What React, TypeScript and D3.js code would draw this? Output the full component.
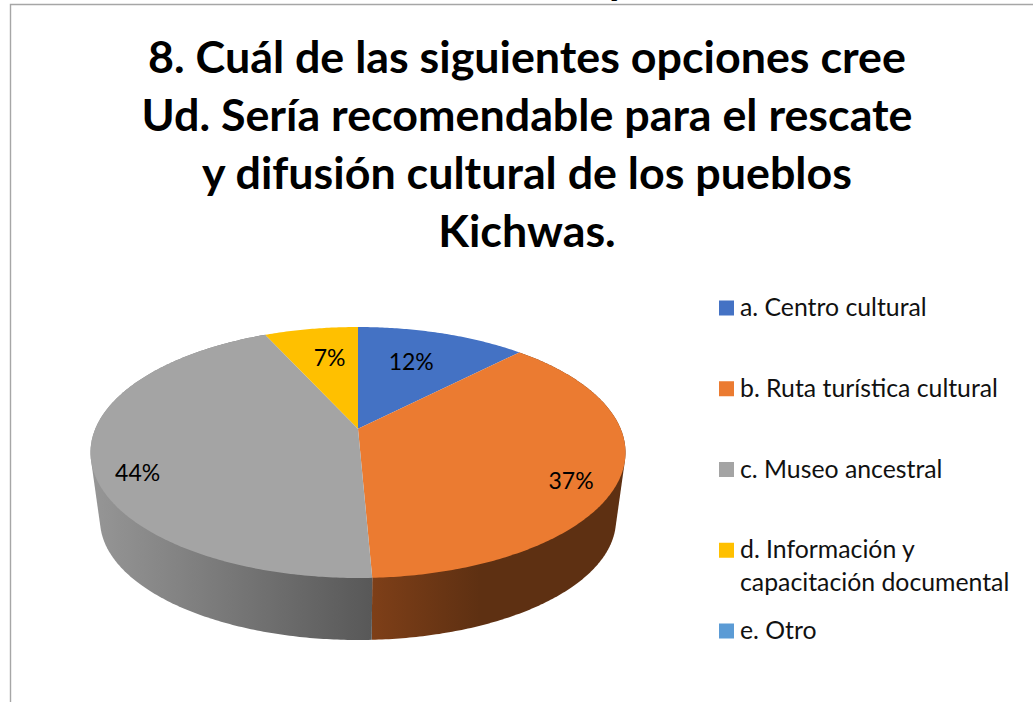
import React from "react";
import * as d3 from "d3";

const titleLines = [
  "8. Cuál de las siguientes opciones cree",
  "Ud. Sería recomendable para el rescate",
  "y difusión cultural de los pueblos",
  "Kichwas.",
];
const categories = ["a. Centro cultural", "b. Ruta turística cultural", "c. Museo ancestral", "d. Información y|capacitación documental", "e. Otro"];
const values = [12.3, 37.0, 43.9, 6.8, 0];
const colors = ["#4472C4", "#EB7B31", "#A4A4A4", "#FFC000", "#5B9BD5"];
const labelShift: [number, number][] = [[-10, 5], [-11, 13], [19, 18], [7, 4]];

const FONT = "Lato, Carlito, Calibri, sans-serif";
const W = 1033, H = 702;
const top = { cx: 358, cy: 452.5, rx: 267.5, ry: 125.5 };
const bot = { cx: 358, cy: 520, rx: 258, ry: 120 };
const persp = 0.19;

function project(e: typeof top, theta: number, r = 1): [number, number] {
  const u = r * Math.sin(theta), v = r * Math.cos(theta);
  const d = 1 + persp * v;
  return [e.cx + e.rx * (u * Math.sqrt(1 - persp * persp)) / d, e.cy - e.ry * (v + persp) / d];
}

const arcs = d3.pie<number>().sort(null).value((d) => d)(values);
const line = d3.line();
const legendY = d3.scalePoint<number>().domain([0, 1, 2, 3, 4]).range([308, 631]);

function edge(e: typeof top, a: number, b: number): [number, number][] {
  const n = Math.max(2, Math.ceil((b - a) * 90));
  return d3.range(n + 1).map((i) => project(e, a + ((b - a) * i) / n));
}

export default function App() {
  return (
    <svg width={W} height={H} style={{ position: "absolute", left: 0, top: 0, background: "#fff" }} fontFamily={FONT}>
      <defs>
        <linearGradient id="side-2" gradientUnits="userSpaceOnUse" x1={97} x2={372} y1={0} y2={0}>
          <stop offset="0" stopColor="#959595" />
          <stop offset="1" stopColor="#585858" />
        </linearGradient>
        <linearGradient id="side-1" gradientUnits="userSpaceOnUse" x1={372} x2={480} y1={0} y2={0}>
          <stop offset="0" stopColor="#7E3F18" />
          <stop offset="1" stopColor="#5E3012" />
        </linearGradient>
      </defs>
      <path d="M10.5 702V4.5H1033" fill="none" stroke="#a6a6a6" strokeWidth={1.4} />
      <text x={618} y={-6} fontSize={44.8} fontWeight={700} textAnchor="middle" fill="#000">y</text>
      {titleLines.map((t, i) => (
        <text key={i} x={527} y={73 + i * 58} fontSize={44.8} fontWeight={700} textAnchor="middle" fill="#000">{t}</text>
      ))}
      {arcs.map((a, i) => a.value > 0 && (i === 1 || i === 2) && (
        <path key={i} d={line(d3.polygonHull([...edge(top, a.startAngle, a.endAngle), ...edge(bot, a.startAngle, a.endAngle)])!) + "Z"} fill={`url(#side-${i})`} />
      ))}
      {arcs.map((a, i) => a.value > 0 && (
        <path key={i} d={line([project(top, 0, 0), ...edge(top, a.startAngle, a.endAngle)]) + "Z"} fill={colors[i]} />
      ))}
      {arcs.map((a, i) => {
        if (a.value <= 0) return null;
        const mid = (a.startAngle + a.endAngle) / 2;
        const [x, y] = project(top, mid, [0.72, 0.86, 0.9, 0.72][i]);
        return <text key={i} x={x + labelShift[i][0]} y={y + labelShift[i][1]} dy="0.35em" fontSize={23} textAnchor="middle" fill="#000">{Math.round(a.value)}%</text>;
      })}
      {categories.map((c, i) => {
        const y = legendY(i)!;
        return (
          <g key={i}>
            <rect x={719} y={y - 7.5} width={15} height={15} fill={colors[i]} />
            {c.split("|").map((l, j) => (
              <text key={j} x={740} y={y + 8 + j * 33} fontSize={24.8} fill="#111">{l}</text>
            ))}
          </g>
        );
      })}
    </svg>
  );
}
